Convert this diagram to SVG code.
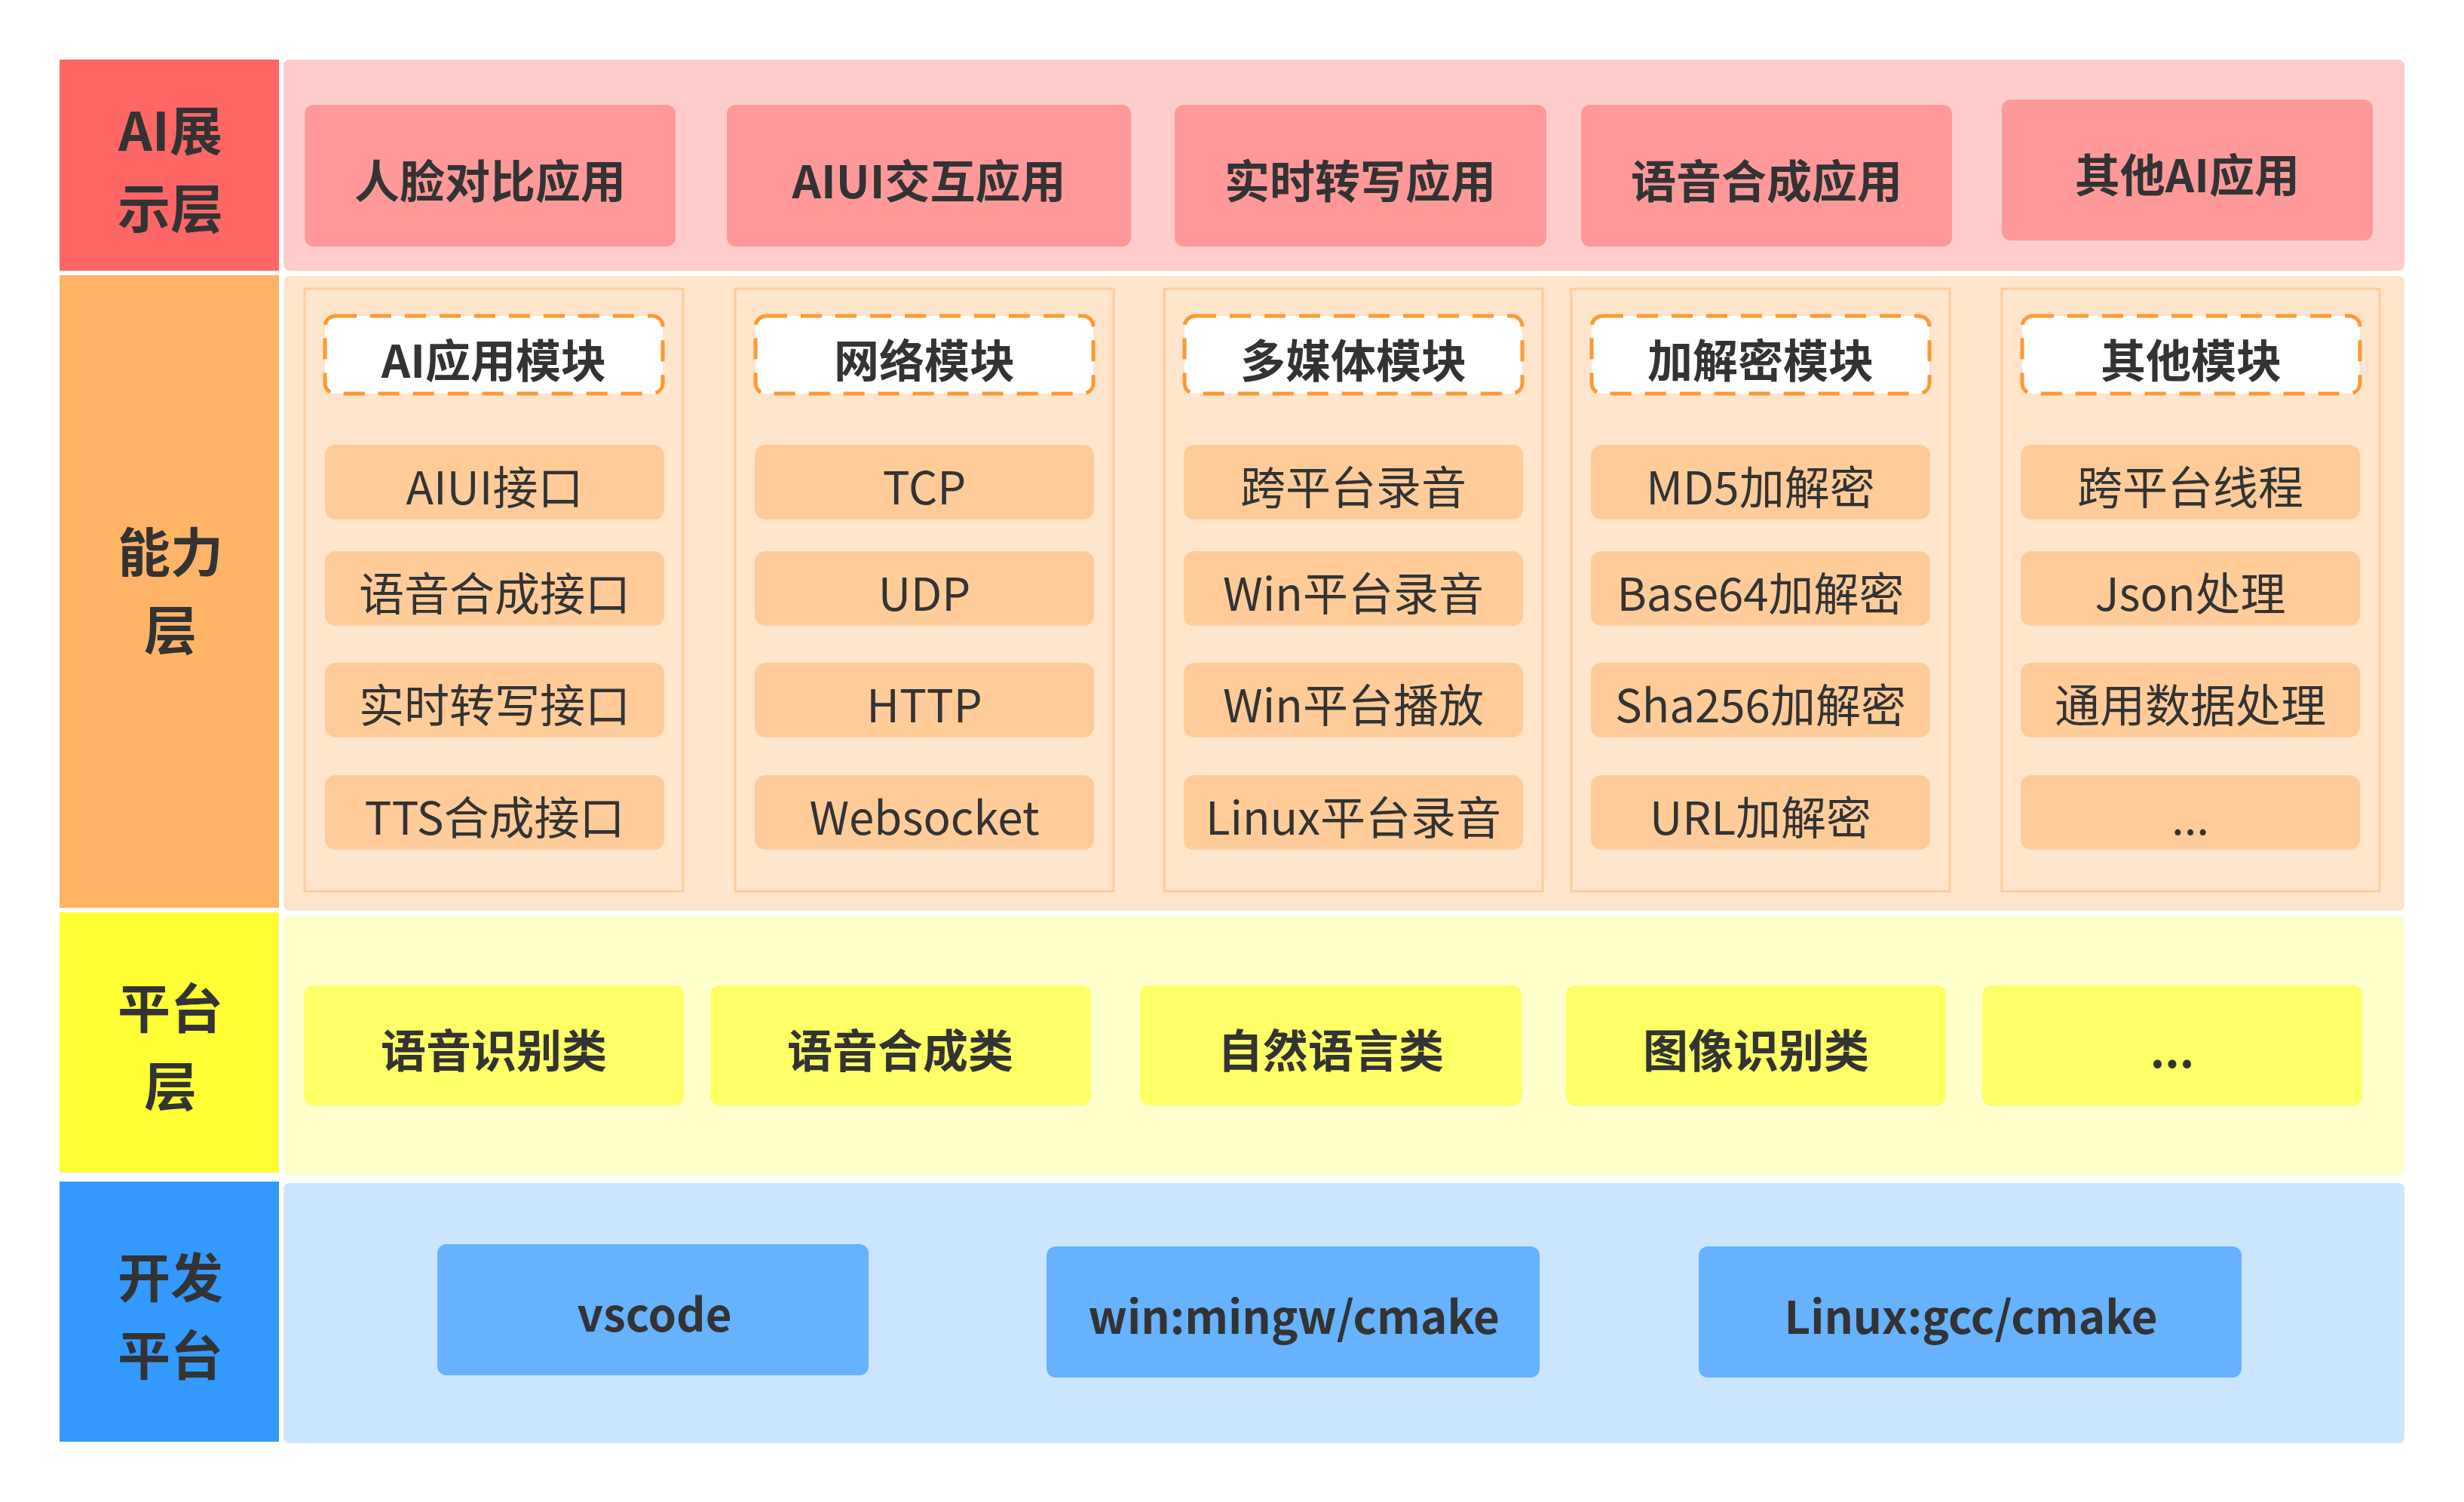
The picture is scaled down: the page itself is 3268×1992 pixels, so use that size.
<svg xmlns="http://www.w3.org/2000/svg" width="3268" height="1992" viewBox="0 0 3268 1992">
<style>
text{font-family:"Noto Sans CJK SC","Noto Sans",sans-serif;fill:#333;text-anchor:middle;dominant-baseline:central}
.lbl{font-size:70px;font-weight:700}
.b{font-size:60px;font-weight:700}
.r{font-size:60px;font-weight:400}
.colA{fill:#FF6666}.panA{fill:#FFCCCC}.boxA{fill:#FF9999}
.colB{fill:#FFB366}.panB{fill:#FFE5CC}.item{fill:#FFCC99}.frame{fill:none;stroke:#FFCC99;stroke-width:3}
.hdr{fill:#fff;stroke:#FF9933;stroke-width:5;stroke-dasharray:28 18}
.colC{fill:#FFFF33}.panC{fill:#FFFFCC}.boxC{fill:#FFFF66}
.colD{fill:#3399FF}.panD{fill:#CCE5FF}.boxD{fill:#66B2FF}
</style>
<rect width="3268" height="1992" fill="#fff"/>

<!-- Layer 1: AI 展示层 -->
<g id="layer-ai">
  <rect class="colA" x="79" y="79" width="291" height="280"/>
  <text class="lbl" x="226" y="169">AI展</text>
  <text class="lbl" x="226" y="272">示层</text>
  <rect class="panA" x="376" y="79" width="2813" height="280" rx="8"/>
</g>
<g id="app-face"><rect class="boxA" x="404" y="139" width="492" height="188" rx="12"/><text class="b" x="650" y="236">人脸对比应用</text></g>
<g id="app-aiui"><rect class="boxA" x="964" y="139" width="536" height="188" rx="12"/><text class="b" x="1232" y="236">AIUI交互应用</text></g>
<g id="app-transcribe"><rect class="boxA" x="1558" y="139" width="493" height="188" rx="12"/><text class="b" x="1804" y="236">实时转写应用</text></g>
<g id="app-tts"><rect class="boxA" x="2097" y="139" width="492" height="188" rx="12"/><text class="b" x="2343" y="236">语音合成应用</text></g>
<g id="app-other"><rect class="boxA" x="2655" y="132" width="492" height="187" rx="12"/><text class="b" x="2901" y="228">其他AI应用</text></g>

<!-- Layer 2: 能力层 -->
<g id="layer-ability">
  <rect class="colB" x="79" y="365" width="291" height="839"/>
  <text class="lbl" x="226" y="728">能力</text>
  <text class="lbl" x="226" y="831">层</text>
  <rect class="panB" x="376" y="366" width="2813" height="842" rx="8"/>
</g>

<g id="mod-ai">
  <rect class="frame" x="404" y="383" width="502" height="799"/>
  <rect class="hdr" x="431" y="419" width="448" height="103" rx="14"/>
  <text class="b" x="655" y="474">AI应用模块</text>
  <rect class="item" x="431" y="590" width="450" height="99" rx="14"/><text class="r" x="656" y="642">AIUI接口</text>
  <rect class="item" x="431" y="731" width="450" height="99" rx="14"/><text class="r" x="656" y="783">语音合成接口</text>
  <rect class="item" x="431" y="879" width="450" height="99" rx="14"/><text class="r" x="656" y="931">实时转写接口</text>
  <rect class="item" x="431" y="1028" width="450" height="99" rx="14"/><text class="r" x="656" y="1080">TTS合成接口</text>
</g>
<g id="mod-net">
  <rect class="frame" x="975" y="383" width="502" height="799"/>
  <rect class="hdr" x="1002" y="419" width="448" height="103" rx="14"/>
  <text class="b" x="1226" y="474">网络模块</text>
  <rect class="item" x="1001" y="590" width="450" height="99" rx="14"/><text class="r" x="1226" y="642">TCP</text>
  <rect class="item" x="1001" y="731" width="450" height="99" rx="14"/><text class="r" x="1226" y="783">UDP</text>
  <rect class="item" x="1001" y="879" width="450" height="99" rx="14"/><text class="r" x="1226" y="931">HTTP</text>
  <rect class="item" x="1001" y="1028" width="450" height="99" rx="14"/><text class="r" x="1226" y="1080">Websocket</text>
</g>
<g id="mod-media">
  <rect class="frame" x="1544" y="383" width="502" height="799"/>
  <rect class="hdr" x="1571" y="419" width="448" height="103" rx="14"/>
  <text class="b" x="1795" y="474">多媒体模块</text>
  <rect class="item" x="1570" y="590" width="450" height="99" rx="14"/><text class="r" x="1795" y="642">跨平台录音</text>
  <rect class="item" x="1570" y="731" width="450" height="99" rx="14"/><text class="r" x="1795" y="783">Win平台录音</text>
  <rect class="item" x="1570" y="879" width="450" height="99" rx="14"/><text class="r" x="1795" y="931">Win平台播放</text>
  <rect class="item" x="1570" y="1028" width="450" height="99" rx="14"/><text class="r" x="1795" y="1080">Linux平台录音</text>
</g>
<g id="mod-crypto">
  <rect class="frame" x="2084" y="383" width="502" height="799"/>
  <rect class="hdr" x="2111" y="419" width="448" height="103" rx="14"/>
  <text class="b" x="2335" y="474">加解密模块</text>
  <rect class="item" x="2110" y="590" width="450" height="99" rx="14"/><text class="r" x="2335" y="642">MD5加解密</text>
  <rect class="item" x="2110" y="731" width="450" height="99" rx="14"/><text class="r" x="2335" y="783">Base64加解密</text>
  <rect class="item" x="2110" y="879" width="450" height="99" rx="14"/><text class="r" x="2335" y="931">Sha256加解密</text>
  <rect class="item" x="2110" y="1028" width="450" height="99" rx="14"/><text class="r" x="2335" y="1080">URL加解密</text>
</g>
<g id="mod-other">
  <rect class="frame" x="2655" y="383" width="501" height="799"/>
  <rect class="hdr" x="2682" y="419" width="448" height="103" rx="14"/>
  <text class="b" x="2906" y="474">其他模块</text>
  <rect class="item" x="2680" y="590" width="450" height="99" rx="14"/><text class="r" x="2905" y="642">跨平台线程</text>
  <rect class="item" x="2680" y="731" width="450" height="99" rx="14"/><text class="r" x="2905" y="783">Json处理</text>
  <rect class="item" x="2680" y="879" width="450" height="99" rx="14"/><text class="r" x="2905" y="931">通用数据处理</text>
  <rect class="item" x="2680" y="1028" width="450" height="99" rx="14"/><text class="r" x="2905" y="1080">...</text>
</g>

<!-- Layer 3: 平台层 -->
<g id="layer-platform">
  <rect class="colC" x="79" y="1210" width="291" height="345"/>
  <text class="lbl" x="226" y="1333">平台</text>
  <text class="lbl" x="226" y="1436">层</text>
  <rect class="panC" x="376" y="1215" width="2813" height="344" rx="8"/>
</g>
<g id="plat-asr"><rect class="boxC" x="403" y="1307" width="504" height="159" rx="12"/><text class="b" x="655" y="1389">语音识别类</text></g>
<g id="plat-tts"><rect class="boxC" x="942" y="1307" width="505" height="159" rx="12"/><text class="b" x="1194" y="1389">语音合成类</text></g>
<g id="plat-nlp"><rect class="boxC" x="1512" y="1307" width="506" height="159" rx="12"/><text class="b" x="1765" y="1389">自然语言类</text></g>
<g id="plat-image"><rect class="boxC" x="2077" y="1307" width="504" height="159" rx="12"/><text class="b" x="2329" y="1389">图像识别类</text></g>
<g id="plat-more"><rect class="boxC" x="2629" y="1307" width="504" height="159" rx="12"/><text class="b" x="2881" y="1389">...</text></g>

<!-- Layer 4: 开发平台 -->
<g id="layer-dev">
  <rect class="colD" x="79" y="1567" width="291" height="345"/>
  <text class="lbl" x="226" y="1690">开发</text>
  <text class="lbl" x="226" y="1793">平台</text>
  <rect class="panD" x="376" y="1569" width="2813" height="345" rx="8"/>
</g>
<g id="dev-vscode"><rect class="boxD" x="580" y="1650" width="572" height="174" rx="12"/><text class="b" x="868" y="1739">vscode</text></g>
<g id="dev-win"><rect class="boxD" x="1388" y="1653" width="654" height="174" rx="12"/><text class="b" x="1716" y="1742">win:mingw/cmake</text></g>
<g id="dev-linux"><rect class="boxD" x="2253" y="1653" width="720" height="174" rx="12"/><text class="b" x="2614" y="1742">Linux:gcc/cmake</text></g>

<g id="connectors"></g>
</svg>
